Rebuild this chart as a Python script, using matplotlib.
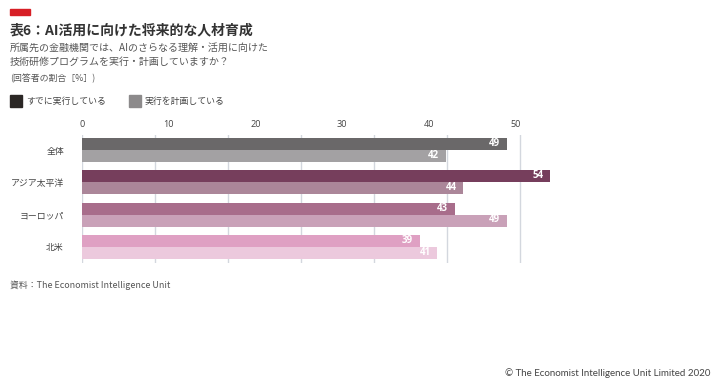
import numpy as np
import matplotlib
from matplotlib import pyplot as plt

plt.rcParams['font.family'] = ['Noto Sans CJK JP', 'DejaVu Sans']

categories = ['全体', 'アジア太平洋', 'ヨーロッパ', '北米']
doing = [49, 54, 43, 39]
planning = [42, 44, 49, 41]
series_names = ['すでに実行している', '実行を計画している']
ticks = [0, 10, 20, 30, 40, 50]

doing_colors = ['#6a6869', '#763e5c', '#a86d8b', '#dfa0c3']
planning_colors = ['#a3a1a3', '#ab8699', '#c9a1b8', '#ecc9dd']
legend_colors = ['#2b2725', '#8c8a8b']
num_font = ['Open Sans', 'DejaVu Sans']

fig = plt.figure(figsize=(7.19, 3.86), dpi=100)
ax = fig.add_axes([82 / 719, 1 - 263 / 386, 478 / 719, 128 / 386])

y = np.arange(len(categories))
h = 0.37
ax.barh(y - h / 2, doing, height=h, color=doing_colors, zorder=2)
ax.barh(y + h / 2, planning, height=h, color=planning_colors, zorder=2)

for yi, v in zip(y - h / 2, doing):
    ax.text(v - 0.8, yi - 0.02, str(v), ha='right', va='center', color='white',
            fontsize=7, fontweight='bold', family=num_font, zorder=3)
for yi, v in zip(y + h / 2, planning):
    ax.text(v - 0.8, yi - 0.02, str(v), ha='right', va='center', color='white',
            fontsize=7, fontweight='bold', family=num_font, zorder=3)

# gridlines as drawn in the original
for gx in np.linspace(0, 50.5, 7):
    ax.axvline(gx, color='#d3d7de', lw=1, zorder=1)

ax.set_xlim(0, 478 / 8.67)
ax.set_ylim(3.5, -0.47)
ax.set_yticks(y)
ax.set_yticklabels(categories, fontsize=6.4, color='#444444')
ax.set_xticks(ticks)
ax.set_xticklabels([str(t) for t in ticks], fontsize=6.6, color='#444444',
                   family=num_font)
ax.xaxis.tick_top()
ax.tick_params(length=0, pad=4)
ax.tick_params(axis='y', pad=13)
for s in ax.spines.values():
    s.set_visible(False)

# header
fig.patches.append(plt.Rectangle((10 / 719, 1 - 15 / 386), 20 / 719, 6 / 386,
                                 color='#d71f26', transform=fig.transFigure))
fig.text(10 / 719, 1 - 30 / 386, '表6：AI活用に向けた将来的な人材育成', fontsize=10,
         fontweight='bold', color='#333333', va='center')
fig.text(10 / 719, 1 - 48 / 386, '所属先の金融機関では、AIのさらなる理解・活用に向けた',
         fontsize=7.2, color='#555555', va='center')
fig.text(10 / 719, 1 - 62 / 386, '技術研修プログラムを実行・計画していますか？',
         fontsize=7.2, color='#555555', va='center')
fig.text(10 / 719, 1 - 79 / 386, '(回答者の割合［%］)', fontsize=6.4,
         color='#555555', va='center')

# legend
lx = [10, 129]
for x0, c, name in zip(lx, legend_colors, series_names):
    fig.patches.append(plt.Rectangle((x0 / 719, 1 - 107 / 386), 12 / 719, 12 / 386,
                                     color=c, transform=fig.transFigure))
    fig.text((x0 + 16) / 719, 1 - 101 / 386, name, fontsize=6.4,
             color='#444444', va='center')

fig.text(10 / 719, 1 - 285 / 386, '資料：The Economist Intelligence Unit',
         fontsize=6.4, color='#555555', va='center')
fig.text(710 / 719, 1 - 373 / 386, '© The Economist Intelligence Unit Limited 2020',
         fontsize=7, color='#444444', va='center', ha='right',
         family=['Lato', 'DejaVu Sans'])

fig.savefig('out.png', dpi=100)
